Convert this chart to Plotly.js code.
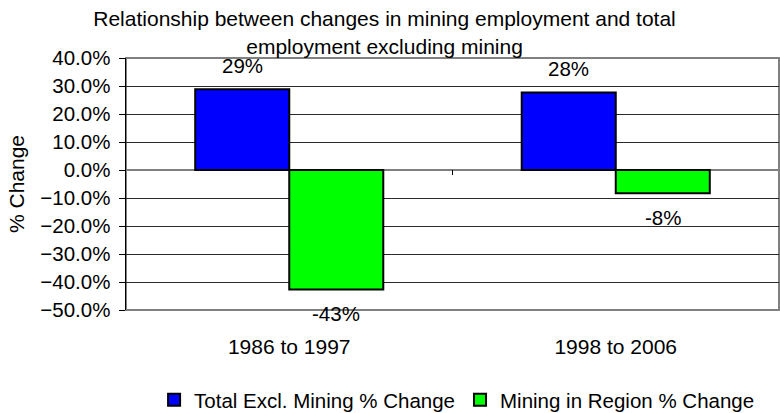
<!DOCTYPE html>
<html>
<head>
<meta charset="utf-8">
<script src="https://cdn.plot.ly/plotly-3.0.1.min.js"></script>
<style>html,body{margin:0;padding:0;background:#fff;}#chart{width:780px;height:413px;}</style>
</head>
<body>
<div id="chart"></div>
<script>
var periods = ["1986 to 1997", "1998 to 2006"];
var totalExclMining = [0.288, 0.277];
var miningInRegion = [-0.427, -0.083];
var seriesNames = ["Total Excl. Mining % Change", "Mining in Region % Change"];
var yTickVals = [-0.5, -0.4, -0.3, -0.2, -0.1, 0, 0.1, 0.2, 0.3, 0.4];

var FONT = "Liberation Sans, Arial, sans-serif";

var traces = [
  {type: "bar", name: seriesNames[0], x: periods, y: totalExclMining,
   marker: {color: "#0000FF", line: {color: "#000000", width: 2}}, hoverinfo: "none"},
  {type: "bar", name: seriesNames[1], x: periods, y: miningInRegion,
   marker: {color: "#00FF00", line: {color: "#000000", width: 2}}, hoverinfo: "none"}
];

var annotations = [];
[totalExclMining, miningInRegion].forEach(function (vals, s) {
  vals.forEach(function (v, i) {
    annotations.push({
      x: periods[i], y: v, xref: "x", yref: "y",
      xshift: s === 0 ? -47 : 47, yshift: v >= 0 ? 24 : -24,
      text: Math.round(v * 100) + "%", showarrow: false,
      font: {family: FONT, size: 20.5, color: "#000"}
    });
  });
});

var layout = {
  width: 780, height: 413,
  margin: {l: 126, r: 1, t: 58, b: 103, pad: 0, autoexpand: false},
  paper_bgcolor: "#fff", plot_bgcolor: "#fff",
  font: {family: FONT, size: 21, color: "#000"},
  title: {
    text: "Relationship between changes in mining employment and total<br>employment excluding mining",
    font: {family: FONT, size: 21, color: "#000"},
    xref: "container", x: 0.493, xanchor: "center",
    yref: "container", y: 0.936, yanchor: "middle"
  },
  barmode: "group", bargap: 0.424, bargroupgap: 0,
  showlegend: true,
  legend: {orientation: "h", x: 0.043, xanchor: "left", y: -0.357, yanchor: "middle",
           font: {family: FONT, size: 20.5, color: "#000"}, itemwidth: 30, tracegroupgap: 0,
           bgcolor: "rgba(0,0,0,0)"},
  xaxis: {
    type: "category", showgrid: false, zeroline: false, showline: false,
    ticks: "", ticklabelstandoff: 22, tickfont: {family: FONT, size: 21, color: "#000"},
    fixedrange: true
  },
  yaxis: {
    range: [-0.5, 0.4], tickvals: yTickVals, tickformat: ".1%",
    showgrid: true, gridcolor: "#2a2a2a", gridwidth: 1,
    zeroline: true, zerolinecolor: "#808080", zerolinewidth: 2,
    showline: true, linecolor: "#000", linewidth: 1.5,
    ticks: "outside", ticklen: 6, tickcolor: "#000", tickwidth: 1,
    ticklabelstandoff: 4,
    tickfont: {family: FONT, size: 20.5, color: "#000"},
    title: {text: "% Change", font: {family: FONT, size: 21, color: "#000"}, standoff: 10},
    fixedrange: true
  },
  shapes: [
    {type: "rect", xref: "paper", yref: "paper", x0: 0, x1: 1, y0: 0, y1: 1,
     line: {color: "#808080", width: 2}, layer: "below"},
    {type: "line", xref: "x", yref: "y", x0: 0.5, x1: 0.5, ysizemode: "pixel", yanchor: 0,
     y0: 0, y1: -5, line: {color: "#000", width: 1}}
  ],
  annotations: annotations
};

Plotly.newPlot("chart", traces, layout, {staticPlot: true, displayModeBar: false});
</script>
</body>
</html>
